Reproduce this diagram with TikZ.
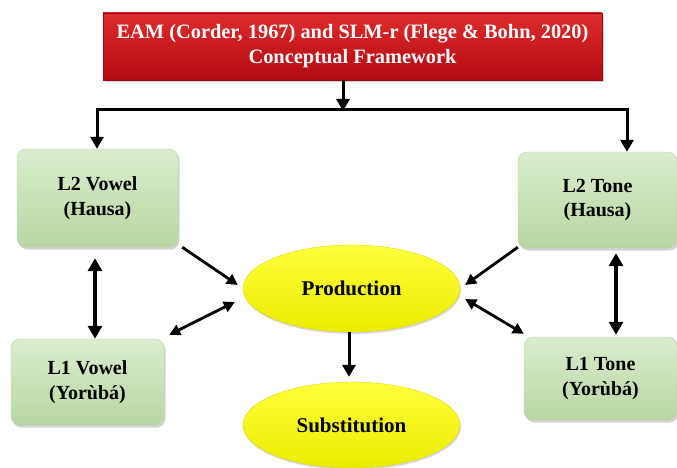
\documentclass[tikz,border=0pt]{standalone}
\usepackage{fontspec}
\setmainfont{Liberation Serif}
\usetikzlibrary{shapes.geometric,arrows.meta,shadows,calc}
\definecolor{gtop}{RGB}{218,237,205}
\definecolor{gbot}{RGB}{184,214,162}
\definecolor{rtop}{RGB}{222,44,44}
\definecolor{rbot}{RGB}{178,10,18}
\definecolor{ytop}{RGB}{255,255,60}
\definecolor{ybot}{RGB}{236,236,0}
\tikzset{
  greenbox/.style={rectangle, rounded corners=9pt, draw=gbot!80!black!60, line width=0.4pt,
    top color=gtop, bottom color=gbot, inner sep=0pt, align=center,
    font=\fontsize{20}{24.5}\selectfont\bfseries,
    drop shadow={opacity=0.35, shadow xshift=1.5pt, shadow yshift=-2.5pt}},
  titlebox/.style={rectangle, draw=rbot!80!black, line width=0.4pt,
    top color=rtop, bottom color=rbot, inner sep=0pt, align=center, text=white,
    font=\fontsize{20.4}{25}\selectfont\bfseries,
    drop shadow={opacity=0.35, shadow xshift=1.5pt, shadow yshift=-2.5pt}},
  yell/.style={ellipse, top color=ytop, bottom color=ybot, draw=ybot!90!black, line width=0.3pt,
    inner sep=0pt, font=\fontsize{21}{24}\selectfont\bfseries,
    drop shadow={opacity=0.3, shadow xshift=1pt, shadow yshift=-2pt}},
  arr/.style={line width=3pt, -{Triangle[length=12pt,width=13pt]}},
  plainline/.style={line width=3pt},
  bigdbl/.style={line width=4pt, {Triangle[length=13pt,width=14pt]}-{Triangle[length=13pt,width=14pt]}},
  diag/.style={line width=2.8pt, -{Triangle[length=11pt,width=11pt]}},
  diagdbl/.style={line width=2.8pt, {Triangle[length=11pt,width=11pt]}-{Triangle[length=11pt,width=11pt]}}
}
\begin{document}
\begin{tikzpicture}[x=1pt,y=-1pt]
\useasboundingbox (0,0) rectangle (677,468);
\node[titlebox, minimum width=499pt, minimum height=67pt] (title) at (352.5,46.5)
  {EAM (Corder, 1967) and SLM-r (Flege \& Bohn, 2020)\\Conceptual Framework};
\node[greenbox, minimum width=161pt, minimum height=98pt] (v2) at (97.5,198) {L2 Vowel\\(Hausa)};
\node[greenbox, minimum width=153pt, minimum height=86pt] (v1) at (87.5,382) {L1 Vowel\\(Yorùbá)};
\node[greenbox, minimum width=159pt, minimum height=96pt] (t2) at (597.5,200) {L2 Tone\\(Hausa)};
\node[greenbox, minimum width=153pt, minimum height=83pt] (t1) at (600.5,378.5) {L1 Tone\\(Yorùbá)};
\node[yell, minimum width=217pt, minimum height=87pt] (prod) at (351.5,288.5) {Production};
\node[yell, minimum width=217pt, minimum height=86pt] (subs) at (351.5,425) {Substitution};

\coordinate (hub) at (343,110);
\coordinate (lc) at (97,110);
\coordinate (rc) at (627,110);
\draw[arr] ([xshift=-9.5pt]title.south) -- ([yshift=-1pt]hub);
\draw[plainline] ([xshift=-1.5pt]lc) -- ([xshift=1.5pt]rc);
\draw[arr] (lc) -- (lc |- v2.north);
\draw[arr] (rc) -- (rc |- t2.north);

\draw[bigdbl] ([shift={(-2.5,11)}]v2.south) -- ([shift={(7.5,0)}]v1.north);
\draw[bigdbl] ([shift={(18.5,5)}]t2.south) -- ([shift={(15.5,-2)}]t1.north);

\draw[diag] ([xshift=4pt]v2.south east) -- ([shift={(-5,-3.5)}]prod.west);
\draw[diagdbl] ([shift={(5,-4)}]v1.north east) -- ([shift={(-8,13.5)}]prod.west);
\draw[diag] ([shift={(0,-1)}]t2.south west) -- ([shift={(5,-3.5)}]prod.east);
\draw[diagdbl] ([shift={(5,10.5)}]prod.east) -- ([shift={(0,-3)}]t1.north west);
\draw[arr] ([xshift=-2.5pt]prod.south) -- ([shift={(-2.5,-5)}]subs.north);
\end{tikzpicture}
\end{document}
